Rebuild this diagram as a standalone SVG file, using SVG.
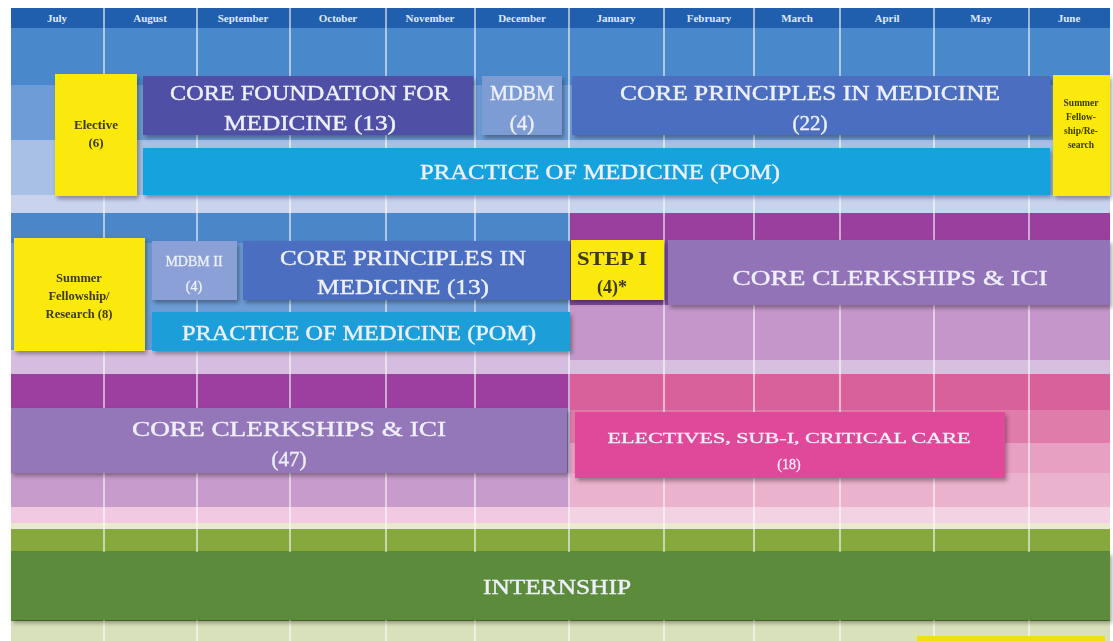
<svg xmlns="http://www.w3.org/2000/svg" width="1113" height="641" viewBox="0 0 1113 641">
<defs>
<filter id="sh" x="-5%" y="-10%" width="115%" height="130%">
<feDropShadow dx="2" dy="3" stdDeviation="2" flood-color="#000" flood-opacity="0.35"/>
</filter>
</defs>
<style>
.hdr{font-family:"Liberation Serif","DejaVu Serif",serif;font-size:11px;font-weight:bold;fill:#dfe9f8;text-anchor:middle}
.big{font-family:"Liberation Serif","DejaVu Serif",serif;font-size:21px;fill:#eef0fb;text-anchor:middle;stroke:#eef0fb;stroke-width:0.4}
.mid{font-family:"Liberation Serif","DejaVu Serif",serif;font-size:14px;fill:#eef0fb;text-anchor:middle;stroke:#eef0fb;stroke-width:0.3}
.yel{font-family:"Liberation Serif","DejaVu Serif",serif;font-weight:bold;fill:#3b3a10;text-anchor:middle}
.grid line{stroke:#ffffff;stroke-opacity:0.55;stroke-width:2}
.box{filter:url(#sh)}
</style>
<rect width="1113" height="641" fill="#ffffff"/>

<g id="background">
<rect x="11" y="8" width="1099" height="20" fill="#1f5fae"/>
<rect x="11" y="28" width="1099" height="57" fill="#4a88cc"/>
<rect x="11" y="85" width="1099" height="55" fill="#6d9cd6"/>
<rect x="11" y="140" width="1099" height="55" fill="#a8c0e6"/>
<rect x="11" y="195" width="1099" height="18" fill="#c9d3ee"/>
<rect x="11" y="213" width="559" height="30" fill="#4a86c8"/>
<rect x="11" y="243" width="559" height="107" fill="#6d9cd6"/>
<rect x="11" y="350" width="559" height="24" fill="#d6bddf"/>
<rect x="570" y="213" width="540" height="27" fill="#9a3f9e"/>
<rect x="570" y="240" width="540" height="65" fill="#7f4a9a"/>
<rect x="570" y="305" width="540" height="55" fill="#c496c9"/>
<rect x="570" y="360" width="540" height="14" fill="#d8bfe0"/>
<rect x="11" y="374" width="559" height="34" fill="#9c3fa0"/>
<rect x="11" y="408" width="559" height="65" fill="#9477b8"/>
<rect x="11" y="473" width="559" height="34" fill="#c79bcb"/>
<rect x="11" y="507" width="559" height="16" fill="#f1c9e0"/>
<rect x="570" y="374" width="540" height="36" fill="#d9619b"/>
<rect x="570" y="410" width="540" height="33" fill="#e07ca9"/>
<rect x="570" y="443" width="540" height="30" fill="#e8a0c2"/>
<rect x="570" y="473" width="540" height="34" fill="#ebb2cd"/>
<rect x="570" y="507" width="540" height="16" fill="#f3d2e3"/>
<rect x="11" y="523" width="1099" height="6" fill="#ece9d2"/>
<rect x="11" y="529" width="1099" height="22" fill="#86a83c"/>
<rect x="11" y="551" width="1099" height="70" fill="#5b8c3a"/>
<rect x="11" y="621" width="1099" height="20" fill="#d9e0bc"/>
</g>

<g id="grid" class="grid">
<line x1="104" y1="8" x2="104" y2="641"/>
<line x1="197" y1="8" x2="197" y2="641"/>
<line x1="290" y1="8" x2="290" y2="641"/>
<line x1="386" y1="8" x2="386" y2="641"/>
<line x1="475" y1="8" x2="475" y2="641"/>
<line x1="569" y1="8" x2="569" y2="641"/>
<line x1="664" y1="8" x2="664" y2="641"/>
<line x1="754" y1="8" x2="754" y2="641"/>
<line x1="840" y1="8" x2="840" y2="641"/>
<line x1="934" y1="8" x2="934" y2="641"/>
<line x1="1029" y1="8" x2="1029" y2="641"/>
</g>

<g id="months">
<text class="hdr" x="57" y="22">July</text>
<text class="hdr" x="150" y="22">August</text>
<text class="hdr" x="243" y="22">September</text>
<text class="hdr" x="338" y="22">October</text>
<text class="hdr" x="430" y="22">November</text>
<text class="hdr" x="522" y="22">December</text>
<text class="hdr" x="616" y="22">January</text>
<text class="hdr" x="709" y="22">February</text>
<text class="hdr" x="797" y="22">March</text>
<text class="hdr" x="887" y="22">April</text>
<text class="hdr" x="981" y="22">May</text>
<text class="hdr" x="1069" y="22">June</text>
</g>

<g id="connectors"></g>

<g id="elective1" class="box">
<rect x="55" y="74" width="82" height="122" fill="#fbe80d"/>
<text class="yel" x="96" y="129" font-size="13">Elective</text>
<text class="yel" x="96" y="147" font-size="13">(6)</text>
</g>
<g id="core-foundation" class="box">
<rect x="143" y="76" width="330" height="59" fill="#4f50a6"/>
<text class="big" x="310" y="100" textLength="280" lengthAdjust="spacingAndGlyphs">CORE FOUNDATION FOR</text>
<text class="big" x="310" y="130" textLength="172" lengthAdjust="spacingAndGlyphs">MEDICINE (13)</text>
</g>
<g id="mdbm1" class="box">
<rect x="482" y="76" width="80" height="59" fill="#7e9cd4"/>
<text class="big" x="522" y="100" textLength="64" lengthAdjust="spacingAndGlyphs">MDBM</text>
<text class="big" x="522" y="130">(4)</text>
</g>
<g id="core-principles-22" class="box">
<rect x="572" y="76" width="478" height="59" fill="#4b6ec1"/>
<text class="big" x="810" y="100" textLength="380" lengthAdjust="spacingAndGlyphs">CORE PRINCIPLES IN MEDICINE</text>
<text class="big" x="810" y="130">(22)</text>
</g>
<g id="pom1" class="box">
<rect x="143" y="148" width="907" height="47" fill="#16a3dd"/>
<text class="big" x="600" y="179" fill="#e4f4ff" stroke="#e4f4ff" textLength="360" lengthAdjust="spacingAndGlyphs">PRACTICE OF MEDICINE (POM)</text>
</g>
<g id="summer1" class="box">
<rect x="1053" y="75" width="57" height="121" fill="#fbe80d"/>
<text class="yel" x="1081" y="106" font-size="9.5">Summer</text>
<text class="yel" x="1081" y="120" font-size="9.5">Fellow-</text>
<text class="yel" x="1081" y="134" font-size="9.5">ship/Re-</text>
<text class="yel" x="1081" y="148" font-size="9.5">search</text>
</g>

<g id="summer2" class="box">
<rect x="14" y="238" width="131" height="113" fill="#fbe80d"/>
<text class="yel" x="79" y="282" font-size="12.5">Summer</text>
<text class="yel" x="79" y="300" font-size="12.5">Fellowship/</text>
<text class="yel" x="79" y="318" font-size="12.5">Research (8)</text>
</g>
<g id="mdbm2" class="box">
<rect x="152" y="241" width="85" height="59" fill="#8aa0d6"/>
<text class="mid" x="194" y="266">MDBM II</text>
<text class="mid" x="194" y="291">(4)</text>
</g>
<g id="core-principles-13" class="box">
<rect x="243" y="241" width="327" height="59" fill="#4b6ec1"/>
<text class="big" x="403" y="265" textLength="246" lengthAdjust="spacingAndGlyphs">CORE PRINCIPLES IN</text>
<text class="big" x="403" y="294" textLength="172" lengthAdjust="spacingAndGlyphs">MEDICINE (13)</text>
</g>
<g id="pom2" class="box">
<rect x="152" y="312" width="418" height="39" fill="#1a9fd8"/>
<text class="big" x="359" y="340" fill="#e4f4ff" stroke="#e4f4ff" textLength="354" lengthAdjust="spacingAndGlyphs">PRACTICE OF MEDICINE (POM)</text>
</g>
<g id="step1" class="box">
<rect x="571" y="240" width="93" height="60" fill="#fbe80d"/>
<text class="yel" x="612" y="265" font-size="18" textLength="70" lengthAdjust="spacingAndGlyphs">STEP I</text>
<text class="yel" x="612" y="293" font-size="18">(4)*</text>
</g>
<g id="core-clerkships-2" class="box">
<rect x="668" y="240" width="442" height="65" fill="#9273b8"/>
<text class="big" x="890" y="285" textLength="315" lengthAdjust="spacingAndGlyphs">CORE CLERKSHIPS &amp; ICI</text>
</g>

<g id="core-clerkships-47" class="box">
<rect x="11" y="408" width="556" height="65" fill="#9477b8"/>
<text class="big" x="289" y="436" textLength="314" lengthAdjust="spacingAndGlyphs">CORE CLERKSHIPS &amp; ICI</text>
<text class="big" x="289" y="466">(47)</text>
</g>
<g id="electives" class="box">
<rect x="575" y="412" width="430" height="66" fill="#e0489a"/>
<text class="mid" x="789" y="443" font-size="15" textLength="363" lengthAdjust="spacingAndGlyphs">ELECTIVES, SUB-I, CRITICAL CARE</text>
<text class="mid" x="789" y="469" font-size="15">(18)</text>
</g>

<g id="internship" class="box">
<rect x="11" y="552" width="1099" height="68" fill="#5b8c3a"/>
<text class="big" x="557" y="594" fill="#e8f8d2" stroke="#e8f8d2" textLength="148" lengthAdjust="spacingAndGlyphs">INTERNSHIP</text>
</g>
<g id="bottom-yellow">
<rect x="917" y="636" width="188" height="6" fill="#f0e010"/>
</g>
</svg>
